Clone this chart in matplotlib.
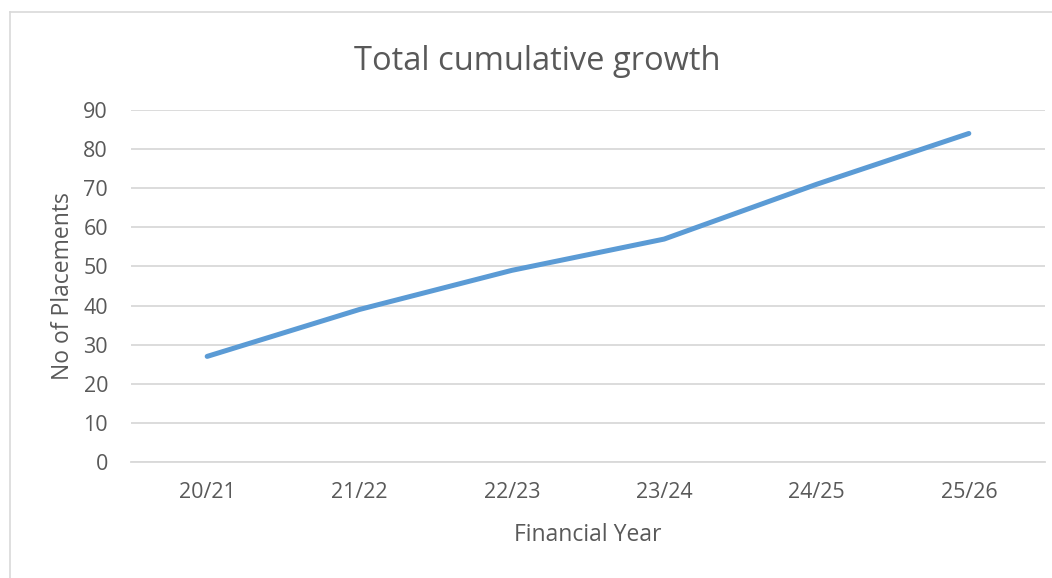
import matplotlib.pyplot as plt
from matplotlib.lines import Line2D

plt.rcParams['font.family'] = ['Open Sans', 'DejaVu Sans']

years = ["20/21", "21/22", "22/23", "23/24", "24/25", "25/26"]
placements = [27, 39, 49, 57, 71, 84]

text_grey = '#595959'
grid_grey = '#d9d9d9'

fig = plt.figure(figsize=(10.52, 5.78), dpi=100)
ax = fig.add_axes([131 / 1052, 1 - 462 / 578, 914 / 1052, 352 / 578])

x = range(len(years))
ax.plot(x, placements, color='#5b9bd5', linewidth=3.6, solid_capstyle='round', solid_joinstyle='round', zorder=3)

ax.set_xlim(-0.5, len(years) - 0.5)
ax.set_ylim(0, 90)
ax.set_yticks(range(0, 91, 10))
ax.set_xticks(list(x))
ax.set_xticklabels(years)
ax.grid(axis='y', color=grid_grey, linewidth=1.3)
ax.set_axisbelow(True)
for side in ['top', 'right', 'left']:
    ax.spines[side].set_visible(False)
ax.spines['bottom'].set_color(grid_grey)
ax.spines['bottom'].set_linewidth(1.3)
ax.tick_params(axis='both', length=0, labelsize=15.5, colors=text_grey)
ax.tick_params(axis='y', pad=16.5)
ax.tick_params(axis='x', pad=14.5)

# title is centred on the whole chart area, not the plot area
ax.set_title("Total cumulative growth", fontsize=23.5, color=text_grey, pad=29, x=(537 - 131) / 914)
ax.set_xlabel("Financial Year", fontsize=16.5, color=text_grey, labelpad=14)
ax.set_ylabel("No of Placements", fontsize=16.5, color=text_grey, labelpad=6)

# chart frame (left and top edges visible)
fig.add_artist(Line2D([10 / 1052, 10 / 1052], [0, 1 - 12 / 578], color=grid_grey, linewidth=1.2))
fig.add_artist(Line2D([10 / 1052, 1], [1 - 12 / 578, 1 - 12 / 578], color=grid_grey, linewidth=1.2))

fig.savefig('out.png', dpi=100)
